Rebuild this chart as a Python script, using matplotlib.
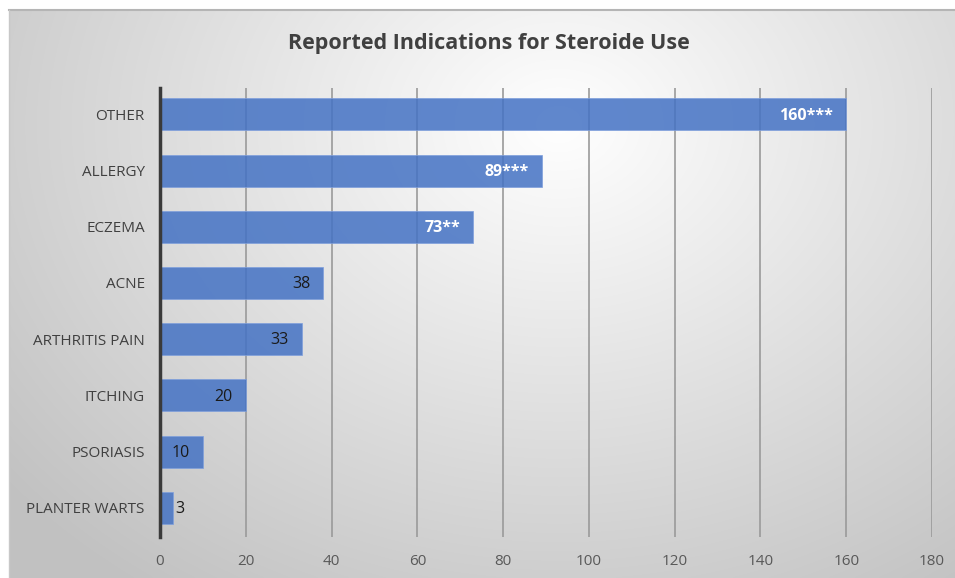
import numpy as np
import matplotlib
matplotlib.use("Agg")
import matplotlib.pyplot as plt

categories = ["OTHER", "ALLERGY", "ECZEMA", "ACNE", "ARTHRITIS PAIN", "ITCHING", "PSORIASIS", "PLANTER WARTS"]
values = [160, 89, 73, 38, 33, 20, 10, 3]
value_labels = ["160***", "89***", "73**", "38", "33", "20", "10", "3"]
xticks = [0, 20, 40, 60, 80, 100, 120, 140, 160, 180]
title = "Reported Indications for Steroide Use"

W, H = 955, 578
fig = plt.figure(figsize=(W / 100, H / 100), dpi=100)
fig.patch.set_facecolor("white")

# gradient background frame
bg = fig.add_axes([9 / W, 0, 1 - 9 / W, 1 - 10 / H])
bg.set_axis_off()
ny, nx = 300, 500
yy, xx = np.mgrid[0:ny, 0:nx]
cx, cy = 0.58 * nx, 0.2 * ny
d = np.sqrt(((xx - cx) / nx) ** 2 + ((yy - cy) / ny * 0.75) ** 2)
d = np.clip(d / 0.75, 0, 1)
val = 1.0 - 0.24 * d
img = np.dstack([val, val, val])
bg.imshow(img, aspect="auto", extent=[0, 1, 0, 1], origin="upper", interpolation="bilinear")
bg.plot([0, 1], [1, 1], color="#b5b5b5", lw=1.5, transform=bg.transAxes, clip_on=False)
bg.plot([0, 0], [0, 1], color="#c8c8c8", lw=1.0, transform=bg.transAxes, clip_on=False)

ax = fig.add_axes([160 / W, 1 - 537 / H, (932 - 160) / W, (537 - 88) / H])
ax.patch.set_alpha(0)
y = np.arange(len(categories))
ax.barh(y, values, height=0.57, color="#4472c4", alpha=0.85, zorder=3, edgecolor="#7f9fdc", linewidth=0.6)
ax.set_ylim(len(categories) - 0.5 + 0.02, -0.5 + 0.03)
ax.set_xlim(0, 180)
ax.set_xticks(xticks)
ax.set_xticklabels([str(t) for t in xticks], fontsize=11, color="#595959", family="Open Sans")
ax.set_yticks(y)
ax.set_yticklabels(categories, fontsize=11, color="#404040", family="Open Sans")
ax.tick_params(axis="both", length=0)
ax.tick_params(axis="x", pad=12)
ax.tick_params(axis="y", pad=11)
ax.grid(axis="x", color="#9a9a9a", lw=1.2, zorder=1)
for s in ["top", "right", "bottom"]:
    ax.spines[s].set_visible(False)
ax.spines["left"].set_color("#3a3a3a")
ax.spines["left"].set_linewidth(2.5)
ax.spines["left"].set_zorder(5)

for i, (v, lab) in enumerate(zip(values, value_labels)):
    if "*" in lab:
        ax.text(v - 3, i + 0.02, lab, ha="right", va="center", color="white", fontsize=11.5,
                fontweight="bold", family="Open Sans", zorder=6)
    elif v < 8:
        ax.text(v + 0.5, i + 0.02, lab, ha="left", va="center", color="#1a1a1a", fontsize=11.5,
                family="Open Sans", zorder=6)
    else:
        ax.text(v - 3, i + 0.02, lab, ha="right", va="center", color="#1a1a1a", fontsize=11.5,
                family="Open Sans", zorder=6)

fig.text(489 / W, 1 - 44 / H, title, ha="center", va="center", fontsize=15.5,
         fontweight="bold", color="#404040", family="Open Sans")

fig.savefig("out.png", dpi=100)
